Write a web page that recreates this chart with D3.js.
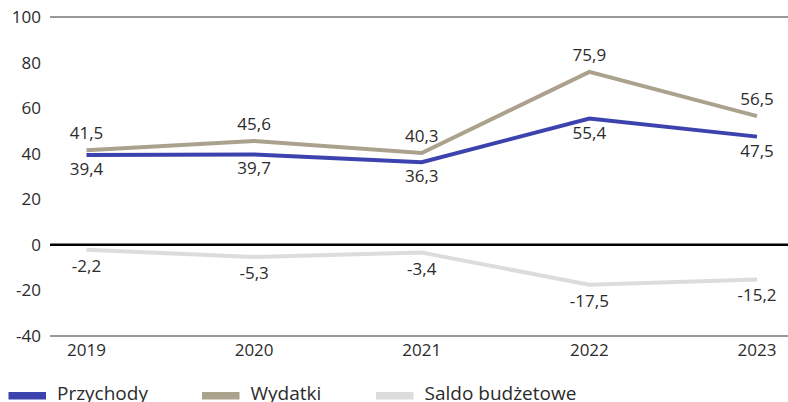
<!DOCTYPE html>
<html><head><meta charset="utf-8">
<script src="https://cdn.jsdelivr.net/npm/d3@7"></script>
<style>body{margin:0;background:#fff}svg{display:block}text{font-family:"Open Sans",sans-serif;fill:#2b2b2b}</style>
</head><body><svg id="c" width="788" height="402"></svg>
<script>
const years = ["2019","2020","2021","2022","2023"];
const przychody = [39.4, 39.7, 36.3, 55.4, 47.5];
const wydatki = [41.5, 45.6, 40.3, 75.9, 56.5];
const saldo = [-2.2, -5.3, -3.4, -17.5, -15.2];
const yTicks = [-40, -20, 0, 20, 40, 60, 80, 100];
const seriesNames = ["Przychody", "Wydatki", "Saldo budżetowe"];
const colors = ["#3d43ae", "#aaa28c", "#dcdcdc"];

const svg = d3.select("#c");
const x = d3.scalePoint().domain(years).range([86.5, 757]);
const y = d3.scaleLinear().domain([-40, 100]).range([336, 17]);
const fmt = v => String(v).replace(".", ",");

// y tick labels
svg.append("g").selectAll("text").data(yTicks).join("text")
  .attr("x", 41).attr("y", d => y(d)).attr("dy", "0.35em")
  .attr("text-anchor", "end").style("font-size", "17px").text(d => d);

// top and bottom lines
svg.append("line").attr("x1", 50).attr("x2", 788).attr("y1", y(100)).attr("y2", y(100)).attr("stroke", "#333").attr("stroke-width", 1);
svg.append("line").attr("x1", 50).attr("x2", 788).attr("y1", y(-40)).attr("y2", y(-40)).attr("stroke", "#333").attr("stroke-width", 1);

// x labels
svg.append("g").selectAll("text").data(years).join("text")
  .attr("x", d => x(d)).attr("y", 356).attr("text-anchor", "middle")
  .style("font-size", "17px").text(d => d);

const line = d3.line().x((d, i) => x(years[i])).y(d => y(d));
const data = [przychody, wydatki, saldo];
[2, 1, 0].forEach(k => {
  svg.append("path").datum(data[k]).attr("d", line).attr("fill", "none")
    .attr("stroke", colors[k]).attr("stroke-width", 4).attr("stroke-linejoin", "miter");
});

// zero line
svg.append("line").attr("x1", 50).attr("x2", 788).attr("y1", y(0)).attr("y2", y(0)).attr("stroke", "#000").attr("stroke-width", 2.5);

const offs = [20, -11, 22];
data.forEach((arr, k) => {
  svg.append("g").selectAll("text").data(arr).join("text")
    .attr("x", (d, i) => x(years[i])).attr("y", d => y(d) + offs[k])
    .attr("text-anchor", "middle").style("font-size", "17px").text(d => fmt(d));
});

// legend
const legX = [8.5, 202, 376];
seriesNames.forEach((n, k) => {
  svg.append("rect").attr("x", legX[k]).attr("y", 392).attr("width", 37.5).attr("height", 7.5).attr("fill", colors[k]);
  svg.append("text").attr("x", legX[k] + 48.5).attr("y", 399.5).style("font-size", "19px").text(n);
});
</script></body></html>
